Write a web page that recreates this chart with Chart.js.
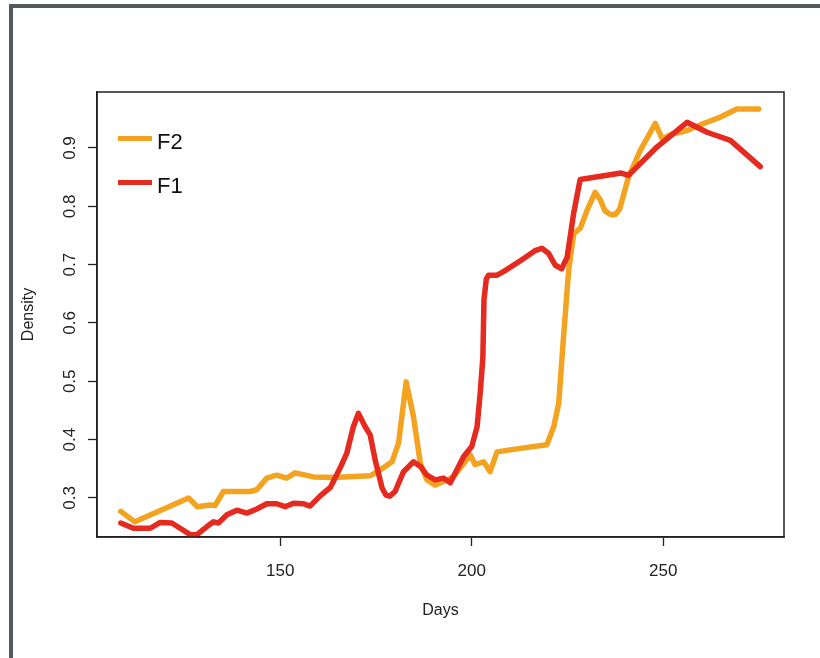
<!DOCTYPE html>
<html>
<head>
<meta charset="utf-8">
<script src="https://cdn.jsdelivr.net/npm/chart.js@4.4.1/dist/chart.umd.min.js"></script>
<style>
  body { margin: 0; background: #fff; }
  #wrap { position: relative; width: 820px; height: 658px; }
  #frame {
    position: absolute; left: 9px; top: 4px; right: 0; bottom: 0;
    border-left: 4px solid #55595c; border-top: 4px solid #55595c;
  }
  canvas { position: absolute; left: 0; top: 0; }
</style>
</head>
<body>
<div id="wrap">
  <div id="frame"></div>
  <canvas id="densityChart" width="820" height="658"></canvas>
</div>
<script>
// values
const f2Days = [108.4, 112.1, 126.1, 128.3, 131.7, 133.0, 135.2, 142.2, 143.9, 146.5, 149.1, 151.7,
  153.9, 158.7, 163.9, 173.5, 176.1, 179.2, 180.9, 182.9, 184.8, 186.6, 188.3, 190.5, 192.6, 195.2,
  197.9, 199.6, 200.9, 203.1, 204.8, 206.6, 212.7, 219.6, 221.4, 222.7, 224.0, 225.3, 226.6, 228.3,
  230.1, 232.2, 233.5, 234.8, 236.2, 237.5, 238.6, 240.9, 244.0, 247.9, 249.7, 252.3, 256.2, 260.5,
  264.9, 269.2, 274.9];
const f2Density = [0.277, 0.259, 0.300, 0.285, 0.288, 0.287, 0.311, 0.311, 0.314, 0.334, 0.339, 0.334,
  0.343, 0.336, 0.335, 0.338, 0.348, 0.362, 0.394, 0.499, 0.439, 0.359, 0.331, 0.322, 0.328, 0.336,
  0.359, 0.374, 0.357, 0.362, 0.345, 0.379, 0.385, 0.391, 0.422, 0.462, 0.580, 0.690, 0.753, 0.762,
  0.793, 0.824, 0.812, 0.792, 0.786, 0.786, 0.795, 0.850, 0.896, 0.942, 0.916, 0.924, 0.930, 0.942,
  0.953, 0.967, 0.967];

const f1Days = [108.4, 111.7, 116.1, 118.7, 121.7, 123.9, 126.5, 128.3, 130.9, 132.6, 133.9, 136.1,
  138.7, 141.3, 143.9, 146.5, 149.1, 151.3, 153.5, 156.1, 157.8, 160.4, 163.1, 165.7, 167.4, 169.1,
  170.4, 172.2, 173.5, 174.8, 176.6, 177.6, 178.6, 180.0, 182.2, 184.8, 186.6, 188.3, 190.5, 192.6,
  194.4, 196.1, 197.9, 200.0, 201.4, 202.2, 202.9, 203.2, 203.8, 204.4, 206.6, 208.3, 213.0, 216.5,
  218.3, 220.1, 221.8, 223.5, 224.9, 226.6, 228.3, 239.0, 240.9, 248.4, 256.2, 261.4, 267.5, 275.3];
const f1Density = [0.257, 0.248, 0.248, 0.258, 0.257, 0.248, 0.237, 0.237, 0.251, 0.259, 0.257, 0.271,
  0.279, 0.274, 0.281, 0.290, 0.290, 0.285, 0.291, 0.290, 0.286, 0.303, 0.318, 0.352, 0.377, 0.422,
  0.445, 0.422, 0.408, 0.365, 0.317, 0.305, 0.303, 0.311, 0.345, 0.362, 0.354, 0.339, 0.331, 0.334,
  0.326, 0.348, 0.371, 0.388, 0.422, 0.479, 0.540, 0.640, 0.675, 0.682, 0.682, 0.688, 0.708, 0.724,
  0.728, 0.719, 0.699, 0.693, 0.713, 0.788, 0.846, 0.857, 0.853, 0.902, 0.944, 0.927, 0.913, 0.868];

const xTicks = [150, 200, 250];
const yTicks = [0.3, 0.4, 0.5, 0.6, 0.7, 0.8, 0.9];

const toPoints = (xs, ys) => xs.map((x, i) => ({ x: x, y: ys[i] }));

const ink = '#222';
Chart.defaults.font.family = "'Liberation Sans', Arial, sans-serif";
Chart.defaults.color = ink;

// box round the plot, like R's box()
const boxPlugin = {
  id: 'box',
  afterDraw(chart) {
    const a = chart.chartArea;
    const ctx = chart.ctx;
    ctx.save();
    ctx.strokeStyle = ink;
    ctx.lineWidth = 1.5;
    ctx.strokeRect(a.left, a.top, a.right - a.left, a.bottom - a.top);
    ctx.restore();
  }
};

// legend drawn inside the plot, top left
const insideLegend = {
  id: 'insideLegend',
  afterDraw(chart) {
    const a = chart.chartArea;
    const ctx = chart.ctx;
    ctx.save();
    chart.data.datasets.forEach((ds, i) => {
      const y = a.top + 46.5 + i * 44;
      ctx.strokeStyle = ds.borderColor;
      ctx.lineWidth = 5;
      ctx.lineCap = 'butt';
      ctx.beginPath();
      ctx.moveTo(a.left + 21, y);
      ctx.lineTo(a.left + 55, y);
      ctx.stroke();
      ctx.fillStyle = '#111';
      ctx.font = "22px 'Liberation Sans', Arial, sans-serif";
      ctx.textBaseline = 'alphabetic';
      ctx.fillText(ds.label, a.left + 60, y + 10);
    });
    ctx.restore();
  }
};

const axisGrid = {
  display: true,
  drawOnChartArea: false,
  drawTicks: true,
  tickLength: 9,
  tickColor: ink,
  tickWidth: 1.3
};

new Chart(document.getElementById('densityChart').getContext('2d'), {
  type: 'line',
  data: {
    datasets: [
      {
        label: 'F2',
        data: toPoints(f2Days, f2Density),
        borderColor: '#f4a321',
        borderWidth: 5.5,
        borderJoinStyle: 'round',
        borderCapStyle: 'round',
        pointRadius: 0,
        tension: 0,
        order: 1
      },
      {
        label: 'F1',
        data: toPoints(f1Days, f1Density),
        borderColor: '#e52a20',
        borderWidth: 5.5,
        borderJoinStyle: 'round',
        borderCapStyle: 'round',
        pointRadius: 0,
        tension: 0,
        order: 0
      }
    ]
  },
  options: {
    responsive: false,
    animation: false,
    devicePixelRatio: 1,
    layout: { padding: { top: 92, right: 36, left: 0, bottom: 0 } },
    plugins: {
      legend: { display: false },
      tooltip: { enabled: false }
    },
    scales: {
      x: {
        type: 'linear',
        min: 102.2,
        max: 281.5,
        afterBuildTicks: (s) => { s.ticks = xTicks.map(v => ({ value: v })); },
        afterFit: (s) => { s.height = 121; },
        ticks: { font: { size: 17 }, padding: 15, color: ink },
        grid: axisGrid,
        border: { display: true, color: ink, width: 1.5 },
        title: { display: true, text: 'Days', font: { size: 16 }, padding: { top: 0, bottom: 38 }, color: ink }
      },
      y: {
        type: 'linear',
        min: 0.233,
        max: 0.996,
        afterBuildTicks: (s) => { s.ticks = yTicks.map(v => ({ value: v })); },
        afterFit: (s) => { s.width = 97; },
        ticks: {
          font: { size: 17 },
          padding: 6,
          color: ink,
          minRotation: 90,
          maxRotation: 90,
          crossAlign: 'center',
          callback: (v) => v.toFixed(1)
        },
        grid: axisGrid,
        border: { display: true, color: ink, width: 1.5 },
        title: { display: true, text: 'Density', font: { size: 16 }, padding: { top: 19, bottom: 0 }, color: ink }
      }
    }
  },
  plugins: [boxPlugin, insideLegend]
});
</script>
</body>
</html>
